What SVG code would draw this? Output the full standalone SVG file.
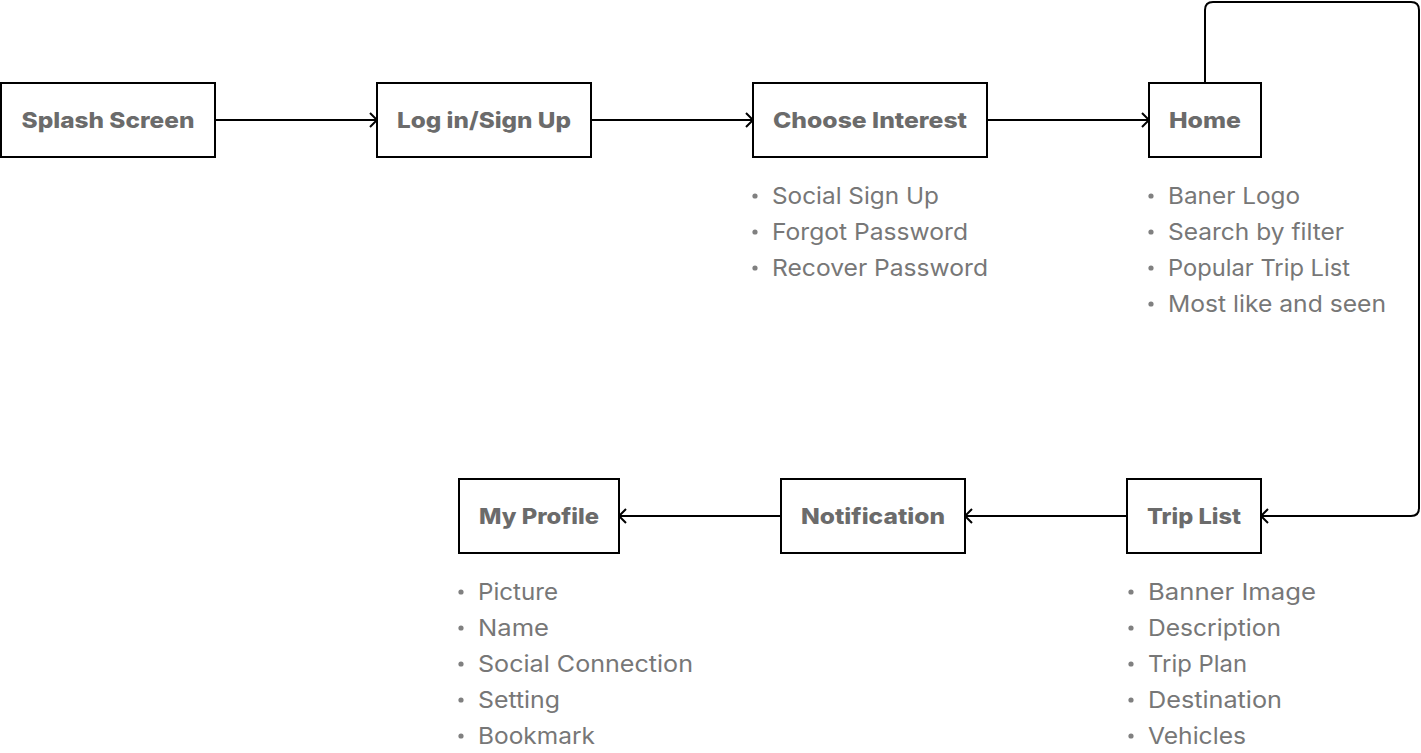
<svg xmlns="http://www.w3.org/2000/svg" width="1421" height="753" viewBox="0 0 1421 753">
<defs>
<marker id="arr" markerWidth="12" markerHeight="16" refX="9" refY="8" orient="auto" markerUnits="userSpaceOnUse">
<path d="M2,1 L9,8 L2,15" fill="none" stroke="#000" stroke-width="2"/>
</marker>
<style>
.box{fill:#fff;stroke:#000;stroke-width:2}
.lbl{font-family:Inter,"Noto Sans","Liberation Sans",sans-serif;font-weight:800;font-size:22px;fill:#6b6b6b;text-anchor:middle}
.it{font-family:Inter,"Noto Sans","Liberation Sans",sans-serif;font-weight:400;font-size:23px;fill:#777}
.dot{fill:#808080}
.con{fill:none;stroke:#000;stroke-width:2;marker-end:url(#arr)}
</style>
</defs>
<rect width="1421" height="753" fill="#fff"/>
<g id="connectors">
<path class="con" d="M215,120 H377"/>
<path class="con" d="M591,120 H753"/>
<path class="con" d="M987,120 H1149"/>
<path class="con" d="M1205,83 V10 Q1205,2 1213,2 H1411 Q1419,2 1419,10 V508 Q1419,516 1411,516 H1261"/>
<path class="con" d="M1127,516 H965"/>
<path class="con" d="M781,516 H619"/>
</g>
<g id="splash">
<rect class="box" x="1" y="83" width="214" height="74"/>
<text class="lbl" x="108" y="128" textLength="173" lengthAdjust="spacingAndGlyphs">Splash Screen</text>
</g>
<g id="login">
<rect class="box" x="377" y="83" width="214" height="74"/>
<text class="lbl" x="484" y="128" textLength="174" lengthAdjust="spacingAndGlyphs">Log in/Sign Up</text>
</g>
<g id="interest">
<rect class="box" x="753" y="83" width="234" height="74"/>
<text class="lbl" x="870" y="128" textLength="194" lengthAdjust="spacingAndGlyphs">Choose Interest</text>
<circle class="dot" cx="755" cy="196" r="2.6"/>
<circle class="dot" cx="755" cy="232" r="2.6"/>
<circle class="dot" cx="755" cy="268" r="2.6"/>
<text class="it" x="772" y="204" textLength="167" lengthAdjust="spacingAndGlyphs">Social Sign Up</text>
<text class="it" x="772" y="240" textLength="196" lengthAdjust="spacingAndGlyphs">Forgot Password</text>
<text class="it" x="772" y="276" textLength="216" lengthAdjust="spacingAndGlyphs">Recover Password</text>
</g>
<g id="home">
<rect class="box" x="1149" y="83" width="112" height="74"/>
<text class="lbl" x="1205" y="128" textLength="72" lengthAdjust="spacingAndGlyphs">Home</text>
<circle class="dot" cx="1151" cy="196" r="2.6"/>
<circle class="dot" cx="1151" cy="232" r="2.6"/>
<circle class="dot" cx="1151" cy="268" r="2.6"/>
<circle class="dot" cx="1151" cy="304" r="2.6"/>
<text class="it" x="1168" y="204" textLength="132" lengthAdjust="spacingAndGlyphs">Baner Logo</text>
<text class="it" x="1168" y="240" textLength="176" lengthAdjust="spacingAndGlyphs">Search by filter</text>
<text class="it" x="1168" y="276" textLength="182" lengthAdjust="spacingAndGlyphs">Popular Trip List</text>
<text class="it" x="1168" y="312" textLength="218" lengthAdjust="spacingAndGlyphs">Most like and seen</text>
</g>
<g id="triplist">
<rect class="box" x="1127" y="479" width="134" height="74"/>
<text class="lbl" x="1194" y="524" textLength="94" lengthAdjust="spacingAndGlyphs">Trip List</text>
<circle class="dot" cx="1131" cy="592" r="2.6"/>
<circle class="dot" cx="1131" cy="628" r="2.6"/>
<circle class="dot" cx="1131" cy="664" r="2.6"/>
<circle class="dot" cx="1131" cy="700" r="2.6"/>
<circle class="dot" cx="1131" cy="736" r="2.6"/>
<text class="it" x="1148" y="600" textLength="168" lengthAdjust="spacingAndGlyphs">Banner Image</text>
<text class="it" x="1148" y="636" textLength="133" lengthAdjust="spacingAndGlyphs">Description</text>
<text class="it" x="1148" y="672" textLength="99" lengthAdjust="spacingAndGlyphs">Trip Plan</text>
<text class="it" x="1148" y="708" textLength="134" lengthAdjust="spacingAndGlyphs">Destination</text>
<text class="it" x="1148" y="744" textLength="98" lengthAdjust="spacingAndGlyphs">Vehicles</text>
</g>
<g id="notification">
<rect class="box" x="781" y="479" width="184" height="74"/>
<text class="lbl" x="873" y="524" textLength="144" lengthAdjust="spacingAndGlyphs">Notification</text>
</g>
<g id="profile">
<rect class="box" x="459" y="479" width="160" height="74"/>
<text class="lbl" x="539" y="524" textLength="120" lengthAdjust="spacingAndGlyphs">My Profile</text>
<circle class="dot" cx="461" cy="592" r="2.6"/>
<circle class="dot" cx="461" cy="628" r="2.6"/>
<circle class="dot" cx="461" cy="664" r="2.6"/>
<circle class="dot" cx="461" cy="700" r="2.6"/>
<circle class="dot" cx="461" cy="736" r="2.6"/>
<text class="it" x="478" y="600" textLength="80" lengthAdjust="spacingAndGlyphs">Picture</text>
<text class="it" x="478" y="636" textLength="71" lengthAdjust="spacingAndGlyphs">Name</text>
<text class="it" x="478" y="672" textLength="215" lengthAdjust="spacingAndGlyphs">Social Connection</text>
<text class="it" x="478" y="708" textLength="82" lengthAdjust="spacingAndGlyphs">Setting</text>
<text class="it" x="478" y="744" textLength="117" lengthAdjust="spacingAndGlyphs">Bookmark</text>
</g>
</svg>
